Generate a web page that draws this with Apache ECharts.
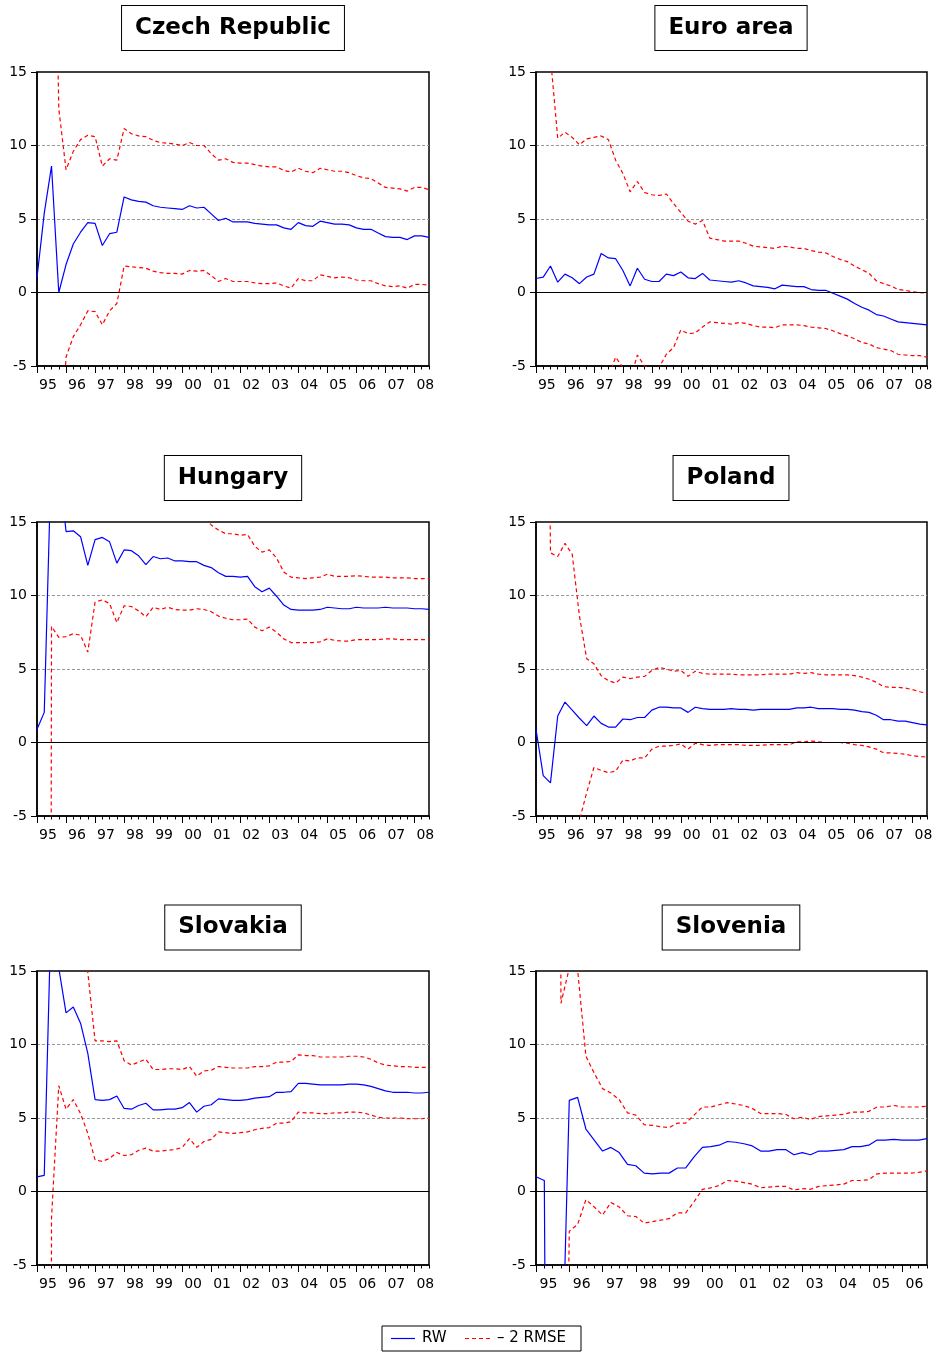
<!DOCTYPE html>
<html><head><meta charset="utf-8">
<script src="https://cdn.jsdelivr.net/npm/echarts@6/dist/echarts.min.js"></script>
<style>html,body{margin:0;padding:0;background:#fff}#c{width:936px;height:1353px}</style>
</head><body><div id="c"></div>
<script>
// Year tick labels
const yearsLong = ['95','96','97','98','99','00','01','02','03','04','05','06','07','08'];
const yearsShort = ['95','96','97','98','99','00','01','02','03','04','05','06'];

// Czech Republic (1995Q1-2008Q3)
const czRW = [1.0,5.4,8.6,0.0,1.9,3.3,4.1,4.75,4.7,3.2,4.0,4.1,6.5,6.3,6.2,6.15,5.9,5.8,5.75,5.7,5.65,5.9,5.75,5.8,5.35,4.9,5.05,4.8,4.8,4.8,4.7,4.65,4.6,4.6,4.4,4.3,4.75,4.55,4.5,4.85,4.75,4.65,4.65,4.6,4.4,4.3,4.3,4.05,3.8,3.75,3.75,3.6,3.85,3.85,3.75];
const czUp = [null,null,40,12.5,8.35,9.6,10.4,10.7,10.6,8.6,9.1,9.0,11.15,10.8,10.65,10.6,10.35,10.2,10.15,10.1,10.0,10.2,10.0,10.0,9.45,9.0,9.1,8.85,8.8,8.8,8.7,8.6,8.55,8.55,8.3,8.2,8.45,8.25,8.15,8.45,8.35,8.25,8.25,8.15,7.95,7.8,7.75,7.45,7.15,7.1,7.05,6.9,7.15,7.15,7.0];
const czLo = [null,null,-23,-12.5,-4.4,-3.0,-2.2,-1.25,-1.3,-2.2,-1.25,-0.75,1.8,1.75,1.7,1.65,1.45,1.35,1.3,1.3,1.25,1.5,1.45,1.5,1.15,0.75,0.95,0.75,0.75,0.75,0.65,0.6,0.6,0.65,0.45,0.3,0.95,0.8,0.8,1.2,1.1,1.0,1.05,1.0,0.85,0.8,0.8,0.6,0.45,0.4,0.45,0.3,0.55,0.55,0.5];

// Euro area
const euRW = [0.95,1.05,1.8,0.7,1.25,1.0,0.6,1.05,1.25,2.65,2.35,2.3,1.5,0.45,1.65,0.9,0.75,0.75,1.25,1.15,1.4,1.0,0.95,1.3,0.85,0.8,0.75,0.7,0.8,0.65,0.45,0.4,0.35,0.25,0.5,0.45,0.4,0.4,0.2,0.15,0.15,-0.05,-0.25,-0.45,-0.75,-1.0,-1.2,-1.5,-1.6,-1.8,-2.0,-2.05,-2.1,-2.15,-2.2];
const euUp = [null,null,16,10.5,10.9,10.55,10.05,10.45,10.55,10.65,10.4,9.0,8.1,6.85,7.55,6.8,6.65,6.6,6.7,6.05,5.45,4.85,4.65,4.9,3.7,3.6,3.5,3.5,3.5,3.35,3.15,3.1,3.05,3.0,3.15,3.1,3.0,3.0,2.85,2.75,2.7,2.45,2.25,2.1,1.8,1.55,1.3,0.8,0.6,0.45,0.2,0.15,0.05,0.0,-0.05];
const euLo = [null,null,-12.4,-9.1,-8.4,-8.55,-8.85,-8.35,-8.05,-5.35,-5.7,-4.4,-5.1,-5.95,-4.25,-5.0,-5.15,-5.1,-4.2,-3.75,-2.55,-2.8,-2.75,-2.35,-2.0,-2.05,-2.1,-2.15,-2.05,-2.1,-2.25,-2.35,-2.35,-2.4,-2.2,-2.2,-2.2,-2.25,-2.35,-2.4,-2.45,-2.6,-2.8,-2.95,-3.15,-3.4,-3.5,-3.75,-3.85,-3.95,-4.2,-4.25,-4.3,-4.3,-4.4];

// Hungary
const huRW = [0.9,2.05,20,19,14.35,14.4,14.0,12.05,13.8,13.95,13.65,12.2,13.1,13.05,12.7,12.1,12.65,12.5,12.55,12.35,12.35,12.3,12.3,12.05,11.9,11.55,11.3,11.3,11.25,11.3,10.6,10.25,10.5,9.95,9.35,9.05,9.0,9.0,9.0,9.05,9.2,9.15,9.1,9.1,9.2,9.15,9.15,9.15,9.2,9.15,9.15,9.15,9.1,9.1,9.05];
const huUp = [null,300,32,30.9,21.5,21.4,20.7,17.95,18.05,18.2,17.85,16.25,16.9,16.85,16.45,15.65,16.1,15.95,15.9,15.65,15.7,15.6,15.5,15.3,14.8,14.45,14.2,14.2,14.1,14.15,13.35,12.95,13.1,12.55,11.6,11.25,11.2,11.15,11.2,11.25,11.45,11.3,11.3,11.3,11.35,11.3,11.25,11.25,11.25,11.2,11.2,11.2,11.15,11.15,11.15];
const huLo = [null,-300,7.9,7.15,7.2,7.4,7.3,6.15,9.55,9.7,9.45,8.15,9.3,9.25,8.95,8.55,9.2,9.05,9.2,9.05,9.0,9.0,9.1,9.05,8.9,8.6,8.45,8.35,8.35,8.4,7.85,7.6,7.85,7.5,7.05,6.8,6.8,6.8,6.8,6.85,7.05,6.95,6.9,6.9,7.0,7.0,7.0,7.0,7.05,7.05,7.0,7.0,7.0,7.0,7.0];

// Poland
const plRW = [0.9,-2.25,-2.75,1.8,2.75,2.2,1.65,1.15,1.8,1.3,1.05,1.05,1.6,1.55,1.7,1.7,2.2,2.4,2.4,2.35,2.35,2.05,2.4,2.3,2.25,2.25,2.25,2.3,2.25,2.25,2.2,2.25,2.25,2.25,2.25,2.25,2.35,2.35,2.4,2.3,2.3,2.3,2.25,2.25,2.2,2.1,2.05,1.85,1.55,1.55,1.45,1.45,1.35,1.25,1.2];
const plUp = [null,60,12.9,12.65,13.55,12.8,8.6,5.7,5.35,4.55,4.2,4.05,4.45,4.35,4.45,4.5,4.9,5.1,5.0,4.85,4.9,4.5,4.85,4.7,4.65,4.65,4.65,4.65,4.6,4.6,4.6,4.6,4.65,4.65,4.65,4.65,4.75,4.7,4.75,4.65,4.6,4.6,4.6,4.6,4.55,4.45,4.3,4.1,3.8,3.75,3.75,3.7,3.6,3.45,3.35];
const plLo = [null,-64.5,-18.4,-9.05,-8.05,-8.4,-5.3,-3.4,-1.7,-1.9,-2.05,-1.95,-1.2,-1.25,-1.05,-1.05,-0.45,-0.25,-0.25,-0.2,-0.1,-0.45,-0.05,-0.15,-0.2,-0.15,-0.15,-0.15,-0.15,-0.2,-0.2,-0.2,-0.15,-0.15,-0.15,-0.15,0.05,0.05,0.1,0.05,0.0,0.0,0.0,-0.05,-0.15,-0.2,-0.3,-0.45,-0.7,-0.7,-0.75,-0.8,-0.9,-0.95,-1.0];

// Slovakia
const skRW = [1.0,1.1,20,15.2,12.15,12.55,11.45,9.4,6.25,6.2,6.25,6.5,5.65,5.6,5.85,6.0,5.55,5.55,5.6,5.6,5.7,6.05,5.4,5.8,5.9,6.3,6.25,6.2,6.2,6.25,6.35,6.4,6.45,6.75,6.75,6.8,7.35,7.35,7.3,7.25,7.25,7.25,7.25,7.3,7.3,7.25,7.15,7.0,6.85,6.75,6.75,6.75,6.7,6.7,6.75];
const skUp = [null,300,41.8,23.2,18.7,18.85,17.6,14.9,10.25,10.25,10.2,10.25,8.9,8.6,8.8,9.0,8.3,8.3,8.35,8.35,8.3,8.5,7.85,8.2,8.25,8.5,8.45,8.4,8.4,8.4,8.5,8.5,8.55,8.8,8.8,8.85,9.3,9.25,9.25,9.15,9.15,9.15,9.15,9.2,9.2,9.15,9.0,8.75,8.6,8.55,8.5,8.5,8.45,8.45,8.45];
const skLo = [null,-300,-1.8,7.2,5.6,6.25,5.3,3.95,2.15,2.05,2.25,2.65,2.45,2.5,2.8,2.95,2.75,2.75,2.8,2.85,3.0,3.6,3.0,3.4,3.55,4.05,4.0,3.95,4.0,4.05,4.2,4.3,4.35,4.65,4.65,4.75,5.4,5.35,5.35,5.3,5.3,5.35,5.35,5.4,5.4,5.35,5.2,5.05,5.0,5.0,5.0,4.95,4.95,4.95,5.0];

// Slovenia (1995Q1-2006Q4)
const slRW = [1.0,0.75,-95,-15.3,6.2,6.4,4.25,3.5,2.75,3.0,2.65,1.85,1.75,1.25,1.2,1.25,1.25,1.6,1.6,2.35,3.0,3.05,3.15,3.4,3.35,3.25,3.1,2.75,2.75,2.85,2.85,2.5,2.65,2.5,2.75,2.75,2.8,2.85,3.05,3.05,3.15,3.5,3.5,3.55,3.5,3.5,3.5,3.6];
const slUp = [null,null,200,12.8,15.2,15.1,9.2,8.05,7.0,6.7,6.25,5.35,5.2,4.55,4.5,4.4,4.35,4.65,4.65,5.2,5.75,5.75,5.9,6.05,5.95,5.85,5.65,5.3,5.3,5.3,5.25,4.95,5.05,4.9,5.1,5.15,5.2,5.25,5.4,5.4,5.45,5.75,5.75,5.85,5.75,5.75,5.75,5.8];
const slLo = [null,null,-390,-43.4,-2.7,-2.25,-0.55,-1.05,-1.6,-0.75,-1.05,-1.65,-1.7,-2.15,-2.05,-1.95,-1.85,-1.45,-1.45,-0.7,0.15,0.25,0.4,0.75,0.7,0.6,0.5,0.25,0.3,0.35,0.35,0.1,0.2,0.15,0.35,0.4,0.45,0.5,0.75,0.75,0.8,1.2,1.25,1.25,1.25,1.25,1.3,1.4];

const titles = ['Czech Republic','Euro area','Hungary','Poland','Slovakia','Slovenia'];
const rwName = 'RW';
const bandName = '\u2013 2 RMSE';

const panels = [
  {rw: czRW, up: czUp, lo: czLo, years: yearsLong},
  {rw: euRW, up: euUp, lo: euLo, years: yearsLong},
  {rw: huRW, up: huUp, lo: huLo, years: yearsLong},
  {rw: plRW, up: plUp, lo: plLo, years: yearsLong},
  {rw: skRW, up: skUp, lo: skLo, years: yearsLong},
  {rw: slRW, up: slUp, lo: slLo, years: yearsShort}
];

function quarters(years, n) {
  const out = [];
  years.forEach(y => { for (let q = 1; q <= 4; q++) out.push(y + 'Q' + q); });
  return out.slice(0, n);
}

const colLeft = [37, 536], colWidth = [392, 391];
const rowTop = [72, 522, 971], plotH = 294;
const titleCx = [233, 731], titleCy = [28, 478, 927.5];
const FONT = '"DejaVu Sans", "Liberation Sans", sans-serif';
const BLUE = '#0000ff', RED = '#ff0000';
const NONE = 'rgba(0,0,0,0)';

const grid = [], xAxis = [], yAxis = [], series = [], graphic = [];
panels.forEach((p, i) => {
  const c = i % 2, r = Math.floor(i / 2);
  const cats = quarters(p.years, p.rw.length);
  const qw = colWidth[c] / (cats.length - 1);
  grid.push({left: colLeft[c], top: rowTop[r], width: colWidth[c], height: plotH,
    show: true, borderColor: '#000', borderWidth: 1.5, backgroundColor: 'transparent'});
  xAxis.push({type: 'category', gridIndex: i, data: cats, boundaryGap: false, position: 'bottom',
    axisLine: {show: true, onZero: false, lineStyle: {color: '#000', width: 1.5}},
    axisTick: {show: true, interval: 0, length: 3.5, lineStyle: {color: '#000', width: 1}},
    axisLabel: {show: true, interval: (idx) => idx % 4 === 2, formatter: v => v.slice(0, 2),
      color: '#000', fontSize: 14, fontFamily: FONT, margin: 12, padding: [0, qw, 0, 0]},
    splitLine: {show: false}});
  xAxis.push({type: 'category', gridIndex: i, data: cats, boundaryGap: false, position: 'bottom',
    axisLine: {show: false, onZero: false},
    axisTick: {show: true, interval: (idx) => idx % 4 === 0, length: 7, lineStyle: {color: '#000', width: 1}},
    axisLabel: {show: false}, splitLine: {show: false}});
  yAxis.push({type: 'value', gridIndex: i, min: -5, max: 15, interval: 5,
    axisLine: {show: true, onZero: false, lineStyle: {color: '#000', width: 1.5}},
    axisTick: {show: true, length: 6, lineStyle: {color: '#000', width: 1}},
    axisLabel: {color: '#000', fontSize: 14, fontFamily: FONT, margin: 10},
    splitLine: {show: true, lineStyle: {color: [NONE, NONE, '#999', '#999', NONE], type: [3, 2], width: 1}}});
  series.push({type: 'line', name: rwName, xAxisIndex: 2 * i, yAxisIndex: i, data: p.rw,
    symbol: 'none', clip: true, lineStyle: {color: BLUE, width: 1.2}, itemStyle: {color: BLUE}, z: 4,
    markLine: {silent: true, symbol: 'none', animation: false, label: {show: false},
      lineStyle: {color: '#000', type: 'solid', width: 1}, data: [{yAxis: 0}]}});
  [p.up, p.lo].forEach(d => series.push({type: 'line', name: bandName, xAxisIndex: 2 * i, yAxisIndex: i,
    data: d, symbol: 'none', clip: true, lineStyle: {color: RED, width: 1.2, type: [4, 3]},
    itemStyle: {color: RED}, z: 3}));
  graphic.push({type: 'text', x: titleCx[c], y: titleCy[r], z: 10,
    style: {text: titles[i], font: 'bold 23px ' + FONT, fill: '#000',
      align: 'center', verticalAlign: 'middle', textAlign: 'center', textVerticalAlign: 'middle',
      lineHeight: 30, padding: [7, 13, 7, 13], borderColor: '#000', borderWidth: 1, backgroundColor: '#fff'}});
});

// Legend box (drawn as graphic so the key matches the reference's plain line samples)
const legY = 1338.5;
graphic.push({type: 'rect', shape: {x: 382, y: 1326, width: 199, height: 25},
  style: {fill: '#fff', stroke: '#000', lineWidth: 1}, z: 10});
graphic.push({type: 'line', shape: {x1: 391, y1: legY, x2: 415, y2: legY},
  style: {stroke: BLUE, lineWidth: 1.2}, z: 11});
graphic.push({type: 'text', x: 422, y: legY, z: 11,
  style: {text: rwName, font: '15px ' + FONT, fill: '#000', align: 'left', verticalAlign: 'middle',
    textAlign: 'left', textVerticalAlign: 'middle'}});
graphic.push({type: 'line', shape: {x1: 465, y1: legY, x2: 492, y2: legY},
  style: {stroke: RED, lineWidth: 1.2, lineDash: [4, 3]}, z: 11});
graphic.push({type: 'text', x: 497, y: legY, z: 11,
  style: {text: bandName, font: '15px ' + FONT, fill: '#000', align: 'left', verticalAlign: 'middle',
    textAlign: 'left', textVerticalAlign: 'middle'}});

const chart = echarts.init(document.getElementById('c'), null, {renderer: 'canvas'});
chart.setOption({
  animation: false,
  backgroundColor: '#fff',
  grid, xAxis, yAxis, series, graphic
});
</script></body></html>
